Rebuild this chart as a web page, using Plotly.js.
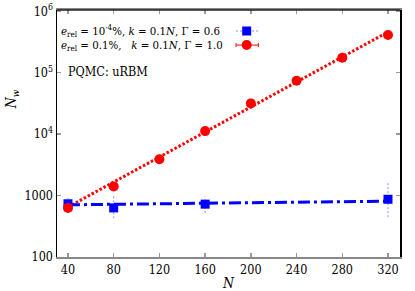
<!DOCTYPE html>
<html><head><meta charset="utf-8">
<script src="https://cdn.plot.ly/plotly-3.0.1.min.js"></script>
<style>html,body{margin:0;padding:0;background:#fff}#chart{width:415px;height:291px}</style>
</head><body><div id="chart"></div>
<script>
// Data
const N_blue = [40, 80, 160, 320];
const Nw_blue = [735, 630, 725, 870];
const Nw_blue_lo = [560, 425, 520, 445];
const Nw_blue_hi = [918, 975, 963, 1680];
const fitN_blue = [40, 320];
const fitNw_blue = [707, 810];

const N_red = [40, 80, 120, 160, 200, 240, 280, 320];
const Nw_red = [630, 1410, 3900, 11200, 31600, 74000, 175000, 410000];
const fitN_red = [40, 320];
const fitNw_red = [650, 460000];

const xTicks = [40, 80, 120, 160, 200, 240, 280, 320];
const yTickVals = [100, 1000, 10000, 100000, 1000000];
const yTickText = ['100', '1000', '10<sup>4</sup>', '10<sup>5</sup>', '10<sup>6</sup>'];

const legendLabels = [
  '<i>e</i><sub>rel</sub> = 10<sup>-4</sup>%, <i>k</i> = 0.1<i>N</i>, Γ = 0.6',
  '<i>e</i><sub>rel</sub> = 0.1%,   <i>k</i> = 0.1<i>N</i>, Γ = 1.0'
];
const noteText = 'PQMC: uRBM';

const FONT = 'DejaVu Serif Condensed';
const BLUE = '#0000ff', RED = '#ff0000', LBLUE = '#8c8cff';

// error bars built from data arrays
const ebX = [], ebY = [];
N_blue.forEach((n, i) => { ebX.push(n, n, null); ebY.push(Nw_blue_lo[i], Nw_blue_hi[i], null); });

const traces = [
  {x: ebX, y: ebY, mode: 'lines', line: {color: LBLUE, width: 1, dash: '2px,2px'}, hoverinfo: 'skip', showlegend: false},
  {x: fitN_red, y: fitNw_red, mode: 'lines', line: {color: RED, width: 3, dash: '2.5px,2px'}, showlegend: false},
  {x: fitN_blue, y: fitNw_blue, mode: 'lines', line: {color: BLUE, width: 3, dash: '12px,4px,3px,4px'}, showlegend: false},
  {x: N_blue, y: Nw_blue, mode: 'markers', marker: {symbol: 'square', size: 9, color: BLUE}, showlegend: false},
  {x: N_red, y: Nw_red, mode: 'markers', marker: {symbol: 'circle', size: 10, color: RED}, showlegend: false}
];

// legend swatch geometry (paper fractions)
const sx = 0.553, sx0 = 0.522, sx1 = 0.587;
const y1 = 0.915, y2 = 0.858;
const shapes = [
  {type: 'line', xref: 'paper', yref: 'paper', x0: 0, x1: 1, y0: 1, y1: 1, line: {color: '#222', width: 1.5}},
  {type: 'line', xref: 'paper', yref: 'paper', x0: sx0, x1: sx1, y0: y1, y1: y1, line: {color: LBLUE, width: 1, dash: '2px,2px'}},
  {type: 'rect', xref: 'paper', yref: 'paper', xsizemode: 'pixel', ysizemode: 'pixel', xanchor: sx, yanchor: y1,
   x0: -4.5, x1: 4.5, y0: -4.5, y1: 4.5, fillcolor: BLUE, line: {width: 0}},
  {type: 'line', xref: 'paper', yref: 'paper', x0: sx0, x1: sx1, y0: y2, y1: y2, line: {color: RED, width: 1}},
  {type: 'line', xref: 'paper', yref: 'paper', ysizemode: 'pixel', yanchor: y2, x0: sx0, x1: sx0, y0: -2, y1: 2, line: {color: RED, width: 1}},
  {type: 'line', xref: 'paper', yref: 'paper', ysizemode: 'pixel', yanchor: y2, x0: sx1, x1: sx1, y0: -2, y1: 2, line: {color: RED, width: 1}},
  {type: 'circle', xref: 'paper', yref: 'paper', xsizemode: 'pixel', ysizemode: 'pixel', xanchor: sx, yanchor: y2,
   x0: -5, x1: 5, y0: -5, y1: 5, fillcolor: RED, line: {width: 0}}
];

const annotations = [
  {xref: 'paper', yref: 'paper', x: 0.005, y: y1, xanchor: 'left', yanchor: 'middle', text: legendLabels[0], showarrow: false, font: {family: FONT, size: 11.4, color: '#000'}},
  {xref: 'paper', yref: 'paper', x: 0.005, y: y2, xanchor: 'left', yanchor: 'middle', text: legendLabels[1], showarrow: false, font: {family: FONT, size: 11.4, color: '#000'}},
  {xref: 'paper', yref: 'paper', x: 0.026, y: 0.752, xanchor: 'left', yanchor: 'middle', text: noteText, showarrow: false, font: {family: FONT, size: 12.5, color: '#000'}},
  {xref: 'paper', yref: 'paper', x: -0.13, y: 0.64, xanchor: 'center', yanchor: 'middle', text: '<i>N</i><sub><i>w</i></sub>', textangle: -90, showarrow: false, font: {family: FONT, size: 14, color: '#000'}}
];

const layout = {
  width: 415, height: 291,
  margin: {l: 57, r: 15, t: 10, b: 34},
  paper_bgcolor: '#fff', plot_bgcolor: '#fff',
  font: {family: FONT, size: 12, color: '#000'},
  showlegend: false,
  xaxis: {
    range: [30.4, 330.5], tickvals: xTicks, ticks: 'inside', ticklen: 4, tickcolor: '#999', tickwidth: 1.5,
    showline: true, linecolor: '#888', linewidth: 2, mirror: 'ticks', showgrid: false, zeroline: false,
    tickfont: {family: FONT, size: 12.5}, title: {text: '<i>N</i>', font: {family: FONT, size: 14}, standoff: 2}
  },
  yaxis: {
    type: 'log', range: [2, 6.02], tickvals: yTickVals, ticktext: yTickText, ticks: 'inside', ticklen: 4, tickcolor: '#999', tickwidth: 1.5,
    showline: true, linecolor: '#000', linewidth: 1.5, mirror: 'ticks', showgrid: false, zeroline: false,
    tickfont: {family: FONT, size: 12.5}
  },
  shapes: shapes,
  annotations: annotations
};

Plotly.newPlot('chart', traces, layout, {displayModeBar: false, staticPlot: true});
</script>
</body></html>
